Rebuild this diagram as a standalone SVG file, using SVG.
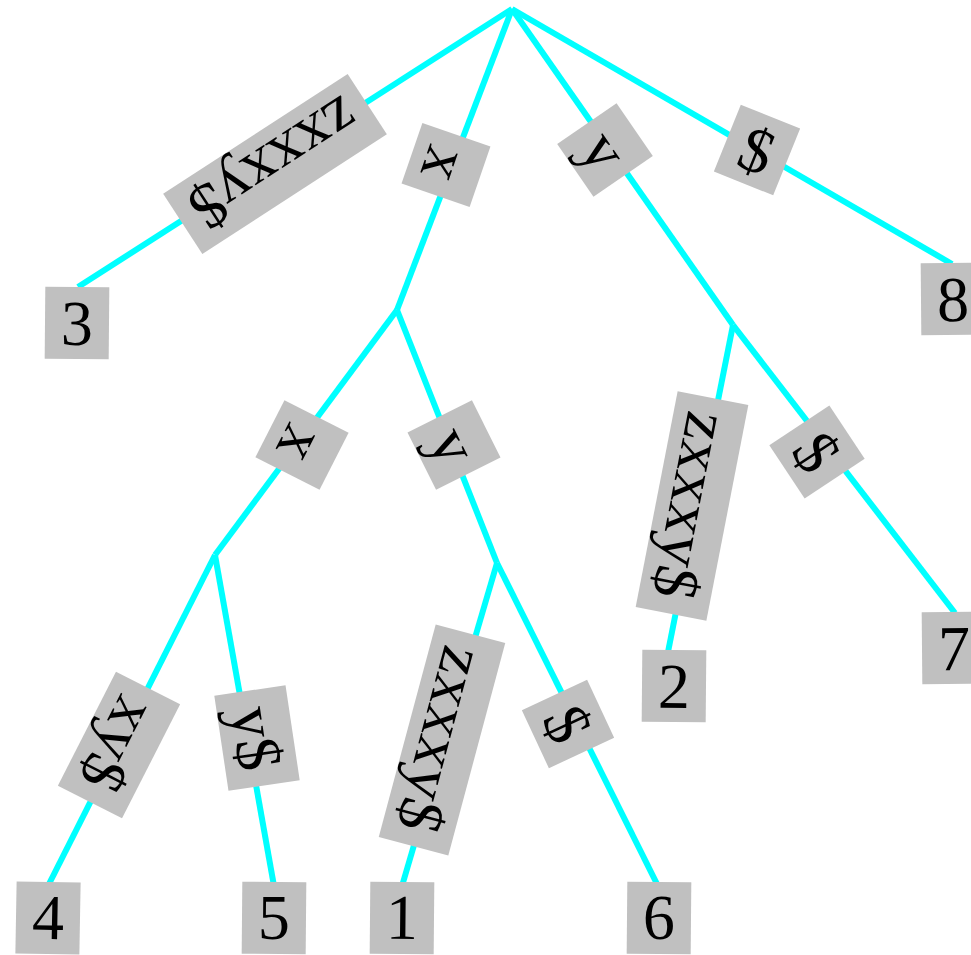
<svg xmlns="http://www.w3.org/2000/svg" width="971" height="955" viewBox="0 0 971 955">
  <style>
    .edge { stroke: #00ffff; stroke-width: 6; fill: none; }
    .box { fill: #c0c0c0; }
    .lbl { font-family: "Liberation Serif", "Times New Roman", serif; font-size: 64px; fill: #000; text-anchor: middle; }
  </style>
  <rect width="971" height="955" fill="#ffffff"/>

  <!-- tree edges -->
  <g id="edges">
    <line class="edge" x1="512" y1="9" x2="78" y2="287"/>
    <line class="edge" x1="512" y1="9" x2="397" y2="310"/>
    <line class="edge" x1="512" y1="9" x2="733" y2="325"/>
    <line class="edge" x1="512" y1="9" x2="952" y2="264"/>
    <line class="edge" x1="397" y1="310" x2="215" y2="555"/>
    <line class="edge" x1="397" y1="310" x2="497" y2="563"/>
    <line class="edge" x1="733" y1="325" x2="668" y2="652"/>
    <line class="edge" x1="733" y1="325" x2="955" y2="613"/>
    <line class="edge" x1="215" y1="555" x2="48" y2="886"/>
    <line class="edge" x1="215" y1="555" x2="274" y2="886"/>
    <line class="edge" x1="497" y1="563" x2="402" y2="886"/>
    <line class="edge" x1="497" y1="563" x2="658" y2="886"/>
  </g>

  <!-- edge labels -->
  <g id="label-root-3" transform="translate(275,164) rotate(147)">
    <rect class="box" x="-110" y="-36" width="220" height="72"/>
    <text class="lbl" x="0" y="22">zxxxy$</text>
  </g>
  <g id="label-root-x" transform="translate(446,165) rotate(109)">
    <rect class="box" x="-32" y="-36" width="64" height="72"/>
    <text class="lbl" x="0" y="22">x</text>
  </g>
  <g id="label-root-y" transform="translate(605,150) rotate(55.5)">
    <rect class="box" x="-32" y="-36" width="64" height="72"/>
    <text class="lbl" x="0" y="22">y</text>
  </g>
  <g id="label-root-8" transform="translate(757,150) rotate(22)">
    <rect class="box" x="-32" y="-36" width="64" height="72"/>
    <text class="lbl" x="0" y="22">$</text>
  </g>
  <g id="label-x-x" transform="translate(302,445) rotate(117)">
    <rect class="box" x="-32" y="-36" width="64" height="72"/>
    <text class="lbl" x="0" y="22">x</text>
  </g>
  <g id="label-x-y" transform="translate(454,445) rotate(63.5)">
    <rect class="box" x="-32" y="-36" width="64" height="72"/>
    <text class="lbl" x="0" y="22">y</text>
  </g>
  <g id="label-y-2" transform="translate(692,506) rotate(101)">
    <rect class="box" x="-110" y="-36" width="220" height="72"/>
    <text class="lbl" x="0" y="22">zxxxy$</text>
  </g>
  <g id="label-y-7" transform="translate(817,452) rotate(56.5)">
    <rect class="box" x="-32" y="-36" width="64" height="72"/>
    <text class="lbl" x="0" y="22">$</text>
  </g>
  <g id="label-xx-4" transform="translate(119,745) rotate(117)">
    <rect class="box" x="-64" y="-36" width="128" height="72"/>
    <text class="lbl" x="0" y="22">xy$</text>
  </g>
  <g id="label-xx-5" transform="translate(257,738) rotate(81.5)">
    <rect class="box" x="-48" y="-36" width="96" height="72"/>
    <text class="lbl" x="0" y="22">y$</text>
  </g>
  <g id="label-xy-1" transform="translate(442,740) rotate(105)">
    <rect class="box" x="-110" y="-36" width="220" height="72"/>
    <text class="lbl" x="0" y="22">zxxxy$</text>
  </g>
  <g id="label-xy-6" transform="translate(568,724) rotate(65)">
    <rect class="box" x="-32" y="-36" width="64" height="72"/>
    <text class="lbl" x="0" y="22">$</text>
  </g>

  <!-- leaves -->
  <g id="leaf-3" transform="translate(77,323) rotate(0.5)">
    <rect class="box" x="-32" y="-36" width="64" height="72"/>
    <text class="lbl" x="0" y="22">3</text>
  </g>
  <g id="leaf-8" transform="translate(953,299) rotate(-0.5)">
    <rect class="box" x="-32" y="-36" width="64" height="72"/>
    <text class="lbl" x="0" y="22">8</text>
  </g>
  <g id="leaf-2" transform="translate(674,686) rotate(0.5)">
    <rect class="box" x="-32" y="-36" width="64" height="72"/>
    <text class="lbl" x="0" y="22">2</text>
  </g>
  <g id="leaf-7" transform="translate(954,648) rotate(-0.5)">
    <rect class="box" x="-32" y="-36" width="64" height="72"/>
    <text class="lbl" x="0" y="22">7</text>
  </g>
  <g id="leaf-4" transform="translate(48,918) rotate(1)">
    <rect class="box" x="-32" y="-36" width="64" height="72"/>
    <text class="lbl" x="0" y="21">4</text>
  </g>
  <g id="leaf-5" transform="translate(274,918) rotate(0.5)">
    <rect class="box" x="-32" y="-36" width="64" height="72"/>
    <text class="lbl" x="0" y="21">5</text>
  </g>
  <g id="leaf-1" transform="translate(402,918) rotate(0.5)">
    <rect class="box" x="-32" y="-36" width="64" height="72"/>
    <text class="lbl" x="0" y="21">1</text>
  </g>
  <g id="leaf-6" transform="translate(659,918) rotate(0.5)">
    <rect class="box" x="-32" y="-36" width="64" height="72"/>
    <text class="lbl" x="0" y="21">6</text>
  </g>
</svg>
